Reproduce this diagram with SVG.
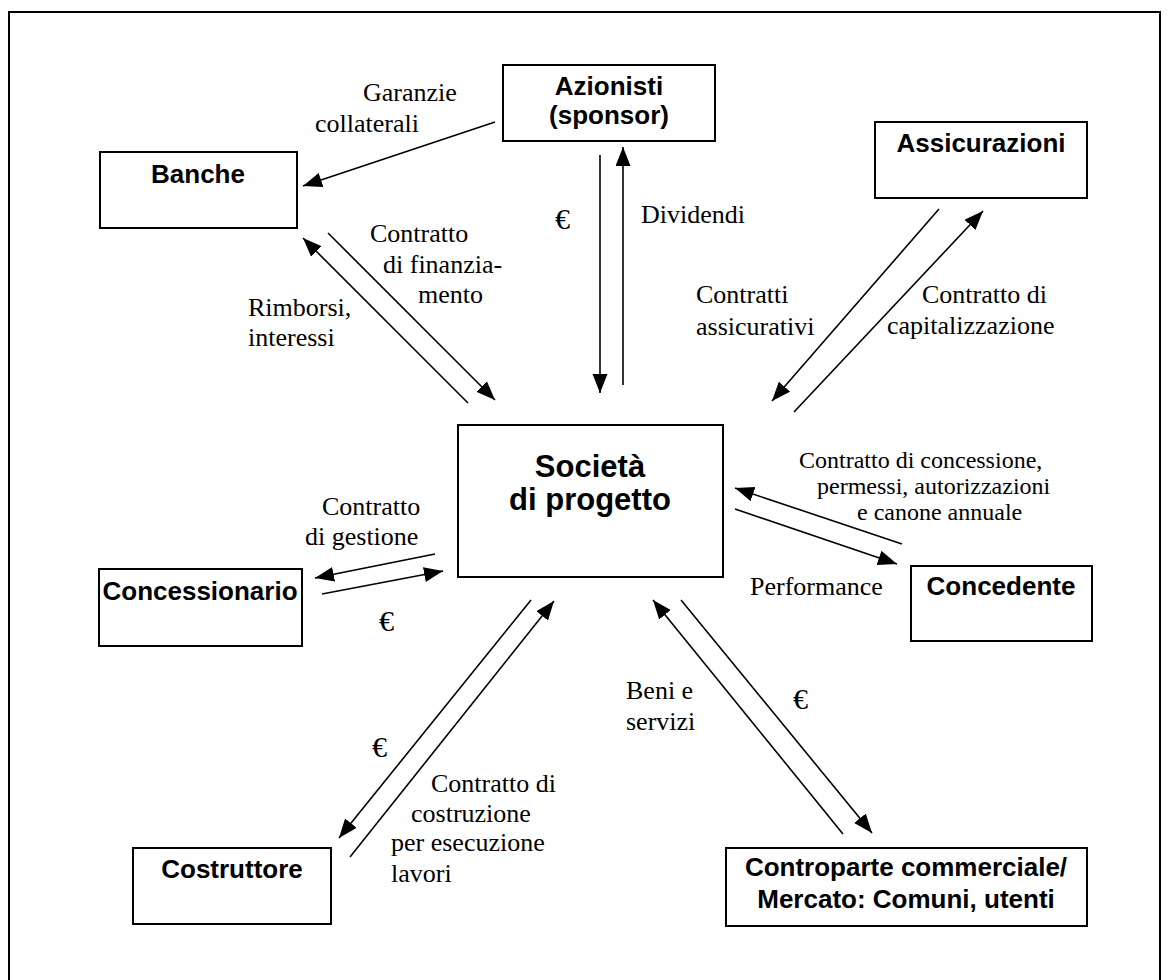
<svg xmlns="http://www.w3.org/2000/svg" width="1170" height="980" viewBox="0 0 1170 980">
<style>
.box{fill:#fff;stroke:#000;stroke-width:2}
.nl{font-family:"Liberation Sans",Arial,sans-serif;font-weight:bold;font-size:26px;fill:#000;text-anchor:middle}
.big{font-size:31px}
.lb{font-family:"Liberation Serif","Times New Roman",serif;font-size:26px;fill:#000}
.sm{font-size:24px}
.eu{font-size:30px}
.ar{stroke:#000;stroke-width:1.6;fill:none;marker-end:url(#ah)}
</style>
<defs>
<marker id="ah" markerUnits="userSpaceOnUse" markerWidth="20" markerHeight="16" refX="19" refY="7.5" orient="auto"><path d="M0,0 L19,7.5 L0,15 z" fill="#000"/></marker>
</defs>
<rect x="0" y="0" width="1170" height="980" fill="#fff"/>
<rect x="9" y="12" width="1151" height="1000" fill="none" stroke="#000" stroke-width="2"/>
<g id="connectors">
<line class="ar" x1="495" y1="122" x2="303" y2="186"/>
<line class="ar" x1="468" y1="403" x2="303" y2="238"/>
<line class="ar" x1="328" y1="233" x2="495" y2="400"/>
<line class="ar" x1="600" y1="155" x2="600" y2="393"/>
<line class="ar" x1="623" y1="385" x2="623" y2="147"/>
<line class="ar" x1="939" y1="209" x2="772" y2="401"/>
<line class="ar" x1="794" y1="412" x2="983" y2="211"/>
<line class="ar" x1="902" y1="544" x2="735" y2="488"/>
<line class="ar" x1="735" y1="509" x2="897" y2="564"/>
<line class="ar" x1="435" y1="554" x2="315" y2="578"/>
<line class="ar" x1="322" y1="594" x2="443" y2="571"/>
<line class="ar" x1="531" y1="600" x2="339" y2="838"/>
<line class="ar" x1="350" y1="857" x2="554" y2="601"/>
<line class="ar" x1="681" y1="600" x2="872" y2="833"/>
<line class="ar" x1="843" y1="834" x2="653" y2="600"/>
</g>
<g id="labels">
<text class="lb" x="363" y="101">Garanzie</text>
<text class="lb" x="315" y="132">collaterali</text>
<text class="lb" x="370" y="242">Contratto</text>
<text class="lb" x="383" y="273">di finanzia-</text>
<text class="lb" x="418" y="303">mento</text>
<text class="lb" x="248" y="316">Rimborsi,</text>
<text class="lb" x="248" y="346">interessi</text>
<text class="lb eu" x="555" y="229">€</text>
<text class="lb" x="641" y="223">Dividendi</text>
<text class="lb" x="696" y="303">Contratti</text>
<text class="lb" x="696" y="335">assicurativi</text>
<text class="lb" x="922" y="303">Contratto di</text>
<text class="lb" x="887" y="334">capitalizzazione</text>
<text class="lb sm" x="799" y="468">Contratto di concessione,</text>
<text class="lb sm" x="817" y="494">permessi, autorizzazioni</text>
<text class="lb sm" x="857" y="520">e canone annuale</text>
<text class="lb" x="750" y="595">Performance</text>
<text class="lb" x="322" y="515">Contratto</text>
<text class="lb" x="305" y="545">di gestione</text>
<text class="lb eu" x="379" y="631">€</text>
<text class="lb eu" x="372" y="757">€</text>
<text class="lb" x="431" y="792">Contratto di</text>
<text class="lb" x="411" y="822">costruzione</text>
<text class="lb" x="391" y="851">per esecuzione</text>
<text class="lb" x="391" y="882">lavori</text>
<text class="lb" x="626" y="699">Beni e</text>
<text class="lb" x="626" y="730">servizi</text>
<text class="lb eu" x="793" y="709">€</text>
</g>
<g id="banche"><rect class="box" x="100" y="152" width="197" height="76"/><text class="nl" x="198" y="183">Banche</text></g>
<g id="azionisti"><rect class="box" x="503" y="65" width="212" height="76"/><text class="nl" x="609" y="95">Azionisti</text><text class="nl" x="609" y="124">(sponsor)</text></g>
<g id="assicurazioni"><rect class="box" x="875" y="122" width="212" height="76"/><text class="nl" x="981" y="152">Assicurazioni</text></g>
<g id="societa"><rect class="box" x="458" y="425" width="265" height="152"/><text class="nl big" x="590" y="477">Società</text><text class="nl big" x="590" y="510">di progetto</text></g>
<g id="concessionario"><rect class="box" x="99" y="569" width="203" height="77"/><text class="nl" x="200" y="600">Concessionario</text></g>
<g id="concedente"><rect class="box" x="911" y="566" width="181" height="75"/><text class="nl" x="1001" y="595">Concedente</text></g>
<g id="costruttore"><rect class="box" x="133" y="848" width="198" height="76"/><text class="nl" x="232" y="878">Costruttore</text></g>
<g id="controparte"><rect class="box" x="726" y="848" width="361" height="78"/><text class="nl" x="906" y="876">Controparte commerciale/</text><text class="nl" x="906" y="908">Mercato: Comuni, utenti</text></g>
</svg>
